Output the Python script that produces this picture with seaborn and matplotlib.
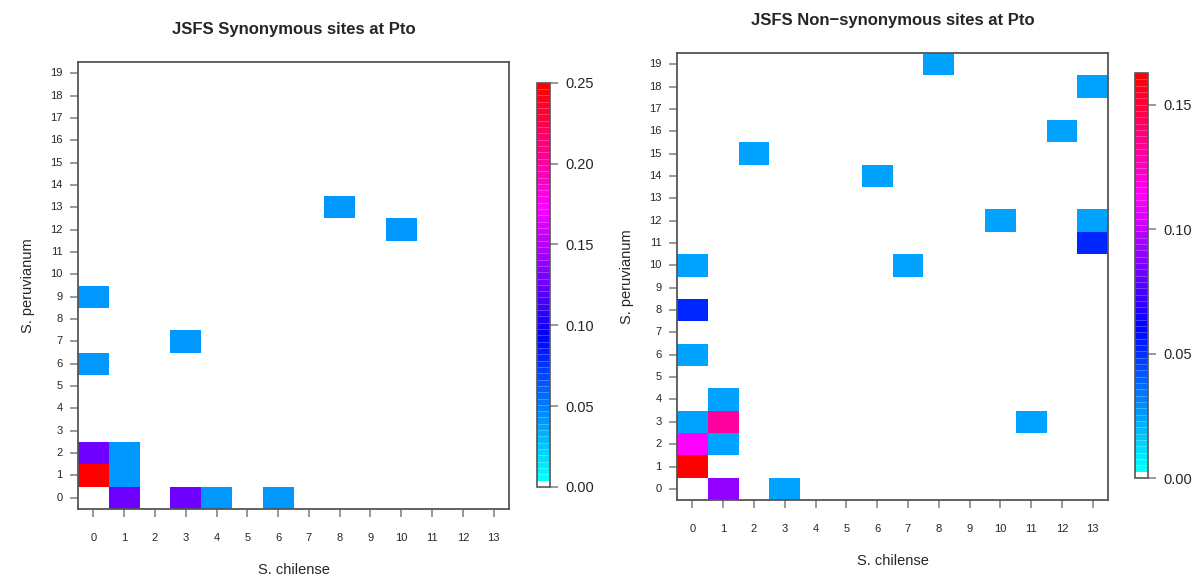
import numpy as np
import pandas as pd
import seaborn as sns
import matplotlib
matplotlib.use("Agg")
import matplotlib.pyplot as plt
from matplotlib.colors import ListedColormap, LinearSegmentedColormap

# Joint site frequency spectra: non-empty cells (S. chilense count, S. peruvianum count, frequency)
chilense_bins = list(range(14))
peruvianum_bins = list(range(20))

syn_chi = [0, 0, 1, 1, 1, 3, 4, 6, 0, 0, 3, 8, 10]
syn_per = [1, 2, 0, 1, 2, 0, 0, 0, 6, 9, 7, 13, 12]
syn_val = [0.25, 0.125, 0.125, 0.0417, 0.0417, 0.125, 0.0417, 0.0417,
           0.0417, 0.0417, 0.0417, 0.0417, 0.0417]

non_chi = [0, 0, 0, 1, 1, 1, 1, 3, 0, 0, 0, 7, 2, 6, 8, 10, 11, 12, 13, 13, 13]
non_per = [1, 2, 3, 0, 2, 3, 4, 0, 6, 8, 10, 10, 15, 14, 19, 12, 3, 16, 18, 12, 11]
non_val = [0.1628, 0.112, 0.0233, 0.09, 0.0233, 0.132, 0.0233, 0.0233,
           0.0233, 0.052, 0.0233, 0.0233, 0.0233, 0.0233, 0.0233, 0.0233,
           0.0233, 0.0233, 0.0233, 0.0233, 0.052]

syn_max = 0.25
non_max = 0.1628
syn_ticks = [0.00, 0.05, 0.10, 0.15, 0.20, 0.25]
non_ticks = [0.00, 0.05, 0.10, 0.15]


def jsfs_frame(xs, ys, vals):
    m = np.zeros((len(peruvianum_bins), len(chilense_bins)))
    for x, y, v in zip(xs, ys, vals):
        m[y, x] = v
    return pd.DataFrame(m, index=peruvianum_bins, columns=chilense_bins)


# white lowest bin, then cyan -> blue -> magenta -> red
ramp = LinearSegmentedColormap.from_list(
    "cbmr", [(0.0, "#00ffff"), (0.36, "#0000ff"), (0.69, "#ff00ff"), (1.0, "#ff0000")])
cols = [(1, 1, 1, 1)] + [ramp(t) for t in np.linspace(0, 1, 63)]
cmap = ListedColormap(cols)

sns.set_style("white")
plt.rcParams["font.family"] = ["Liberation Sans", "DejaVu Sans"]

fig = plt.figure(figsize=(12, 5.79), dpi=100)
frame_col = "#555555"
tick_col = "#888888"

panels = [
    dict(df=jsfs_frame(syn_chi, syn_per, syn_val), vmax=syn_max, ticks=syn_ticks,
         title="JSFS Synonymous sites at Pto",
         ax=[0.065, 0.1209, 0.3592, 0.772], cax=[0.4475, 0.159, 0.0108, 0.698]),
    dict(df=jsfs_frame(non_chi, non_per, non_val), vmax=non_max, ticks=non_ticks,
         title="JSFS Non\u2212synonymous sites at Pto",
         ax=[0.5642, 0.1364, 0.3592, 0.772], cax=[0.9458, 0.1744, 0.0108, 0.6995]),
]

for p in panels:
    ax = fig.add_axes(p["ax"])
    cax = fig.add_axes(p["cax"])
    sns.heatmap(p["df"], ax=ax, cbar_ax=cax, cmap=cmap, vmin=0, vmax=p["vmax"],
                cbar_kws={"ticks": p["ticks"], "drawedges": True})
    ax.invert_yaxis()
    ax.set_xticks(np.arange(len(chilense_bins)) + 0.5)
    ax.set_xticklabels([str(c) for c in chilense_bins], rotation=0, fontsize=8)
    ax.set_yticks(np.arange(len(peruvianum_bins)) + 0.5)
    ax.set_yticklabels([str(r) for r in peruvianum_bins], rotation=0, fontsize=8)
    ax.tick_params(axis="x", direction="out", length=6, width=1.2, color=tick_col,
                   pad=11, bottom=True)
    ax.tick_params(axis="y", direction="out", length=6, width=1.2, color=tick_col,
                   pad=5, left=True)
    for s in ax.spines.values():
        s.set_visible(True)
        s.set_color(frame_col)
        s.set_linewidth(1.3)
    ax.set_xlabel("S. chilense", fontsize=10.5, labelpad=15)
    ax.set_ylabel("S. peruvianum", fontsize=10.5, labelpad=11)
    ax.set_title(p["title"], fontsize=12, fontweight="bold", pad=20)

    cb = ax.collections[0].colorbar
    cb.set_ticklabels([f"{t:.2f}" for t in p["ticks"]])
    cb.dividers.set_color("white")
    cb.dividers.set_alpha(0.35)
    cb.dividers.set_linewidth(0.5)
    cb.outline.set_visible(True)
    cb.outline.set_edgecolor(frame_col)
    cb.outline.set_linewidth(1.2)
    cax.tick_params(direction="out", length=6, width=1.2, color=tick_col,
                    labelsize=10.5, pad=5)

fig.savefig("out.png", dpi=100)
